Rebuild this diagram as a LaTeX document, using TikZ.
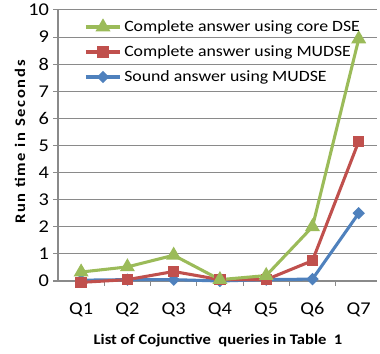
\documentclass[tikz,border=0pt]{standalone}
\usepackage{fontspec}
\setmainfont{Carlito}[FakeStretch=1.13]
\usetikzlibrary{shapes.geometric, calc, positioning}
\definecolor{dseGreen}{HTML}{9BBB59}
\definecolor{mudseRed}{HTML}{C0504D}
\definecolor{soundBlue}{HTML}{4F81BD}
\definecolor{gridGray}{HTML}{8A8A8A}
\tikzset{
    gridLine/.style={draw=gridGray, line width=0.8pt},
    seriesLine/.style={line width=2.3pt, line join=round},
    triMark/.style={regular polygon, regular polygon sides=3, fill=dseGreen, inner sep=0pt, minimum size=13pt},
    sqMark/.style={rectangle, fill=mudseRed, inner sep=0pt, minimum size=8.5pt},
    diaMark/.style={diamond, fill=soundBlue, inner sep=0pt, minimum size=9.5pt},
    tickLabel/.style={font=\fontsize{13.5}{15}\selectfont, inner sep=1pt},
    legendText/.style={font=\fontsize{11.8}{13}\selectfont, anchor=west, inner sep=0pt},
    axisTitle/.style={font=\bfseries\fontsize{11}{13}\selectfont, inner sep=0pt},
}
% one series: coordinates #1<i>, line in colour #2
\newcommand{\drawSeries}[3]{
    \foreach \v [count=\i] in {#3} {
        \coordinate (#1\i) at (\i-0.5, \v);
    }
    \draw[seriesLine, #2] (#11) -- (#12) -- (#13) -- (#14) -- (#15) -- (#16) -- (#17);
}
\newcommand{\drawMarks}[2]{
    \foreach \i in {1,...,7} {
        \node[#2] (#1m\i) at (#1\i) {};
    }
}

\begin{document}
\begin{tikzpicture}[x=0.75pt, y=0.75pt]
    \useasboundingbox (0,0) rectangle (380,354);

    \begin{scope}[shift={(58,73)}, x=34.7pt, y=20.33pt]
        % grid and y ticks
        \foreach \t in {0,...,10} {
            \draw[gridLine] (-0.1,\t) -- (6.9,\t);
            \node[tickLabel, anchor=east] (ytick\t) at (-0.16,\t) {\t};
        }
        \draw[gridLine] (0,0) -- (0,10);
        \foreach \q in {1,...,7} {
            \draw[gridLine] (\q,0) -- (\q,-0.2);
            \node[tickLabel] (xtick\q) at (\q-0.5,-1.07) {Q\q};
        }

        % data
        \drawSeries{b}{soundBlue}{0.03, 0.05, 0.05, 0.0, 0.05, 0.07, 2.5}
        \drawSeries{r}{mudseRed}{-0.05, 0.05, 0.35, 0.05, 0.05, 0.75, 5.15}
        \drawSeries{g}{dseGreen}{0.33, 0.52, 0.95, 0.05, 0.2, 2.0, 8.93}
        \drawMarks{b}{diaMark}
        \drawMarks{r}{sqMark}
        \drawMarks{g}{triMark}
    \end{scope}

    % legend
    \coordinate (lg1) at (86,327);
    \coordinate (lg2) at (86,302);
    \coordinate (lg3) at (86,277);
    \draw[seriesLine, dseGreen] (lg1) -- ++(34,0) coordinate (lg1e);
    \draw[seriesLine, mudseRed] (lg2) -- ++(34,0) coordinate (lg2e);
    \draw[seriesLine, soundBlue] (lg3) -- ++(34,0) coordinate (lg3e);
    \node[triMark] at ($(lg1)!0.5!(lg1e)$) {};
    \node[sqMark] at ($(lg2)!0.5!(lg2e)$) {};
    \node[diaMark] at ($(lg3)!0.5!(lg3e)$) {};
    \node[legendText, right=3pt of lg1e] (lt1) {Complete answer using core DSE};
    \node[legendText, right=3pt of lg2e] (lt2) {Complete answer using MUDSE};
    \node[legendText, right=3pt of lg3e] (lt3) {Sound answer using MUDSE};

    % axis titles
    \node[axisTitle, rotate=90] (ytitle) at (20,212) {\addfontfeature{LetterSpace=12}Run time in Seconds};
    \node[axisTitle] (xtitle) at (218,13) {List of Cojunctive\ \ queries in Table\ \ 1};
\end{tikzpicture}
\end{document}
